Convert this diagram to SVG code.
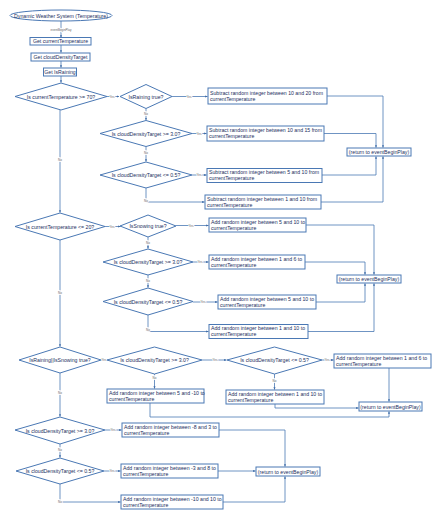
<svg xmlns="http://www.w3.org/2000/svg" width="447" height="515" viewBox="0 0 447 515">
<defs>
<marker id="a" viewBox="0 0 6 6" refX="5.5" refY="3" markerWidth="3.2" markerHeight="3.2" orient="auto">
<path d="M0,0.5 L6,3 L0,5.5 Z" fill="#3d6aa6"/>
</marker>
<style>
.n rect,.n ellipse,.n polygon{fill:#fff;stroke:#4a78b4;stroke-width:1}
.t{font-family:"Liberation Sans",Arial,sans-serif;font-size:5.2px;fill:#1b2f5e}
.c{text-anchor:middle;dominant-baseline:central}
.e path{fill:none;stroke:#4a78b4;stroke-width:0.8;marker-end:url(#a)}
.l{font-family:"Liberation Sans",Arial,sans-serif;font-size:3px;fill:#666;text-anchor:middle;dominant-baseline:central;stroke:#fff;stroke-width:1.6;paint-order:stroke}
</style>
</defs>
<rect width="447" height="515" fill="#fff"/>
<g class="e" id="connectors">
<path d="M61,21 V37.5"/>
<path d="M61,45 V52.5"/>
<path d="M61,61 V67.5"/>
<path d="M61,76 V82.5"/>
<path d="M107,96.5 H119"/>
<path d="M172,96.5 H207.5"/>
<path d="M327,96 H383 V147.5"/>
<path d="M146,108.5 V120"/>
<path d="M192,133.5 H206.5"/>
<path d="M324,133.5 H376 V147.5"/>
<path d="M146,146.5 V161.5"/>
<path d="M192,175 H206.5"/>
<path d="M322,175 H376 V156.5"/>
<path d="M146,188 V202 H204.5"/>
<path d="M321,202 H383 V156.5"/>
<path d="M60,110 V212.5"/>
<path d="M105,226.5 H120.5"/>
<path d="M176,225.5 H208.5"/>
<path d="M306,225 H374 V274.5"/>
<path d="M148,237 V248.5"/>
<path d="M193,262 H208.5"/>
<path d="M305,262 H365 V274.5"/>
<path d="M148,275 V287.5"/>
<path d="M193,302 H217.5"/>
<path d="M316,302 H365 V283.5"/>
<path d="M148,315 V331.5 H208.5"/>
<path d="M308,331.5 H374 V283.5"/>
<path d="M60,240 V346.5"/>
<path d="M101,360 H106.5"/>
<path d="M202,360 H226.5"/>
<path d="M322,360 H333.5"/>
<path d="M389,368 V401.5"/>
<path d="M154.5,374 V388.5"/>
<path d="M150,403 V417 H389 V411.5"/>
<path d="M274.5,374 V389.5"/>
<path d="M275,404 V408 H358.5"/>
<path d="M60,373 V416.5"/>
<path d="M105,430 H121.5"/>
<path d="M219,430 H285 V466.5"/>
<path d="M60,444 V457.5"/>
<path d="M104,471 H120.5"/>
<path d="M218,471 H255.5"/>
<path d="M60,484 V502 H120.5"/>
<path d="M223,502 H285 V476.5"/>
</g>
<g id="labels">
<text class="l" x="61" y="30">eventBeginPlay</text>
<text class="l" x="112" y="96.5">Yes</text>
<text class="l" x="189" y="96.5">Yes</text>
<text class="l" x="146" y="114">No</text>
<text class="l" x="199" y="133.5">Yes</text>
<text class="l" x="146" y="153">No</text>
<text class="l" x="199" y="175">Yes</text>
<text class="l" x="146" y="201">No</text>
<text class="l" x="60" y="160">No</text>
<text class="l" x="112" y="226.5">Yes</text>
<text class="l" x="191" y="225.5">Yes</text>
<text class="l" x="148" y="243">No</text>
<text class="l" x="200" y="262">Yes</text>
<text class="l" x="148" y="281">No</text>
<text class="l" x="203" y="302">Yes</text>
<text class="l" x="148" y="330">No</text>
<text class="l" x="60" y="293">No</text>
<text class="l" x="104" y="360">Yes</text>
<text class="l" x="215" y="360">Yes</text>
<text class="l" x="327" y="360">Yes</text>
<text class="l" x="154.5" y="378">No</text>
<text class="l" x="274.5" y="381">No</text>
<text class="l" x="60" y="393">No</text>
<text class="l" x="113" y="430">Yes</text>
<text class="l" x="60" y="450">No</text>
<text class="l" x="112" y="471">Yes</text>
<text class="l" x="60" y="502">No</text>
</g>
<g class="n" id="start"><ellipse cx="61" cy="15.5" rx="51" ry="5.5"/><text class="t c" x="61" y="15.5">Dynamic Weather System (Temperature)</text></g>
<g class="n" id="getTemp"><rect x="30" y="37.5" width="61" height="7.5"/><text class="t c" x="60.5" y="41.3">Get currentTemperature</text></g>
<g class="n" id="getCloud"><rect x="31" y="53" width="59" height="8"/><text class="t c" x="60.5" y="57">Get cloudDensityTarget</text></g>
<g class="n" id="getRain"><rect x="43.5" y="68" width="33" height="8"/><text class="t c" x="60" y="72">Get IsRaining</text></g>
<g class="n" id="d1"><polygon points="61,83 107,96.5 61,110 15,96.5"/><text class="t c" x="61" y="96.5">Is currentTemperature &gt;= 70?</text></g>
<g class="n" id="dRain"><polygon points="146,84.5 172,96.5 146,108.5 120,96.5"/><text class="t c" x="146" y="96.5">IsRaining true?</text></g>
<g class="n" id="bA"><rect x="208" y="88" width="119" height="16"/><text class="t" x="210" y="94.5">Subtract random integer between 10 and 20 from</text><text class="t" x="210" y="100.5">currentTemperature</text></g>
<g class="n" id="d2"><polygon points="146,120.5 192,133.5 146,146.5 100,133.5"/><text class="t c" x="146" y="133.5">Is cloudDensityTarget &gt;= 3.0?</text></g>
<g class="n" id="bB"><rect x="207" y="126" width="117" height="15"/><text class="t" x="209" y="132">Subtract random integer between 10 and 15 from</text><text class="t" x="209" y="138">currentTemperature</text></g>
<g class="n" id="d3"><polygon points="146,162 192,175 146,188 100,175"/><text class="t c" x="146" y="175">Is cloudDensityTarget &lt;= 0.5?</text></g>
<g class="n" id="bC"><rect x="207" y="168.5" width="115" height="14"/><text class="t" x="209" y="174">Subtract random integer between 5 and 10 from</text><text class="t" x="209" y="180">currentTemperature</text></g>
<g class="n" id="bD"><rect x="205" y="195" width="116" height="14"/><text class="t" x="207" y="200.5">Subtract random integer between 1 and 10 from</text><text class="t" x="207" y="206.5">currentTemperature</text></g>
<g class="n" id="r1"><rect x="347" y="148" width="64" height="8"/><text class="t c" x="379" y="152">(return to eventBeginPlay)</text></g>
<g class="n" id="d4"><polygon points="60,213 105,226.5 60,240 15,226.5"/><text class="t c" x="60" y="226.5">Is currentTemperature &lt;= 20?</text></g>
<g class="n" id="dSnow"><polygon points="148,215 176,226 148,237 120,226"/><text class="t c" x="148" y="226">IsSnowing true?</text></g>
<g class="n" id="bE"><rect x="209" y="218" width="97" height="14"/><text class="t" x="211" y="223.5">Add random integer between 5 and 10 to</text><text class="t" x="211" y="229.5">currentTemperature</text></g>
<g class="n" id="d5"><polygon points="148,249 193,262 148,275 103,262"/><text class="t c" x="148" y="262">Is cloudDensityTarget &gt;= 3.0?</text></g>
<g class="n" id="bF"><rect x="209" y="255" width="96" height="14"/><text class="t" x="211" y="260.5">Add random integer between 1 and 6 to</text><text class="t" x="211" y="266.5">currentTemperature</text></g>
<g class="n" id="d6"><polygon points="148,288 193,301.5 148,315 103,301.5"/><text class="t c" x="148" y="301.5">Is cloudDensityTarget &lt;= 0.5?</text></g>
<g class="n" id="bG"><rect x="218" y="295" width="98" height="14"/><text class="t" x="220" y="300.5">Add random integer between 5 and 10 to</text><text class="t" x="220" y="306.5">currentTemperature</text></g>
<g class="n" id="bH"><rect x="209" y="324.5" width="99" height="14"/><text class="t" x="211" y="330">Add random integer between 1 and 10 to</text><text class="t" x="211" y="336">currentTemperature</text></g>
<g class="n" id="r2"><rect x="337" y="275" width="64" height="8"/><text class="t c" x="369" y="279">(return to eventBeginPlay)</text></g>
<g class="n" id="d7"><polygon points="60,347 101,360 60,373 19,360"/><text class="t c" x="60" y="360">IsRaining||IsSnowing true?</text></g>
<g class="n" id="d8"><polygon points="154.5,347 202,360 154.5,374 107,360"/><text class="t c" x="154.5" y="360">Is cloudDensityTarget &gt;= 3.0?</text></g>
<g class="n" id="d9"><polygon points="274.5,347 322,360 274.5,374 227,360"/><text class="t c" x="274.5" y="360">Is cloudDensityTarget &lt;= 0.5?</text></g>
<g class="n" id="bI"><rect x="334" y="354" width="97" height="14"/><text class="t" x="336" y="359.5">Add random integer between 1 and 6 to</text><text class="t" x="336" y="365.5">currentTemperature</text></g>
<g class="n" id="bJ"><rect x="107" y="389" width="97" height="14"/><text class="t" x="109" y="394.5">Add random integer between 5 and -10 to</text><text class="t" x="109" y="400.5">currentTemperature</text></g>
<g class="n" id="bK"><rect x="226" y="390" width="98" height="14"/><text class="t" x="228" y="395.5">Add random integer between 1 and 10 to</text><text class="t" x="228" y="401.5">currentTemperature</text></g>
<g class="n" id="r3"><rect x="359" y="402" width="63" height="9"/><text class="t c" x="390.5" y="406.5">(return to eventBeginPlay)</text></g>
<g class="n" id="d10"><polygon points="60,417 105,430 60,444 15,430"/><text class="t c" x="60" y="430.5">Is cloudDensityTarget &gt;= 3.0?</text></g>
<g class="n" id="bL"><rect x="122" y="423" width="97" height="14"/><text class="t" x="124" y="428.5">Add random integer between -8 and 3 to</text><text class="t" x="124" y="434.5">currentTemperature</text></g>
<g class="n" id="d11"><polygon points="60,458 104,471 60,484 16,471"/><text class="t c" x="60" y="471">Is cloudDensityTarget &lt;= 0.5?</text></g>
<g class="n" id="bM"><rect x="121" y="464" width="97" height="14"/><text class="t" x="123" y="469.5">Add random integer between -3 and 8 to</text><text class="t" x="123" y="475.5">currentTemperature</text></g>
<g class="n" id="bN"><rect x="121" y="495" width="102" height="14"/><text class="t" x="123" y="500.5">Add random integer between -10 and 10 to</text><text class="t" x="123" y="506.5">currentTemperature</text></g>
<g class="n" id="r4"><rect x="256" y="467" width="64" height="9"/><text class="t c" x="288" y="471.5">(return to eventBeginPlay)</text></g>
</svg>
